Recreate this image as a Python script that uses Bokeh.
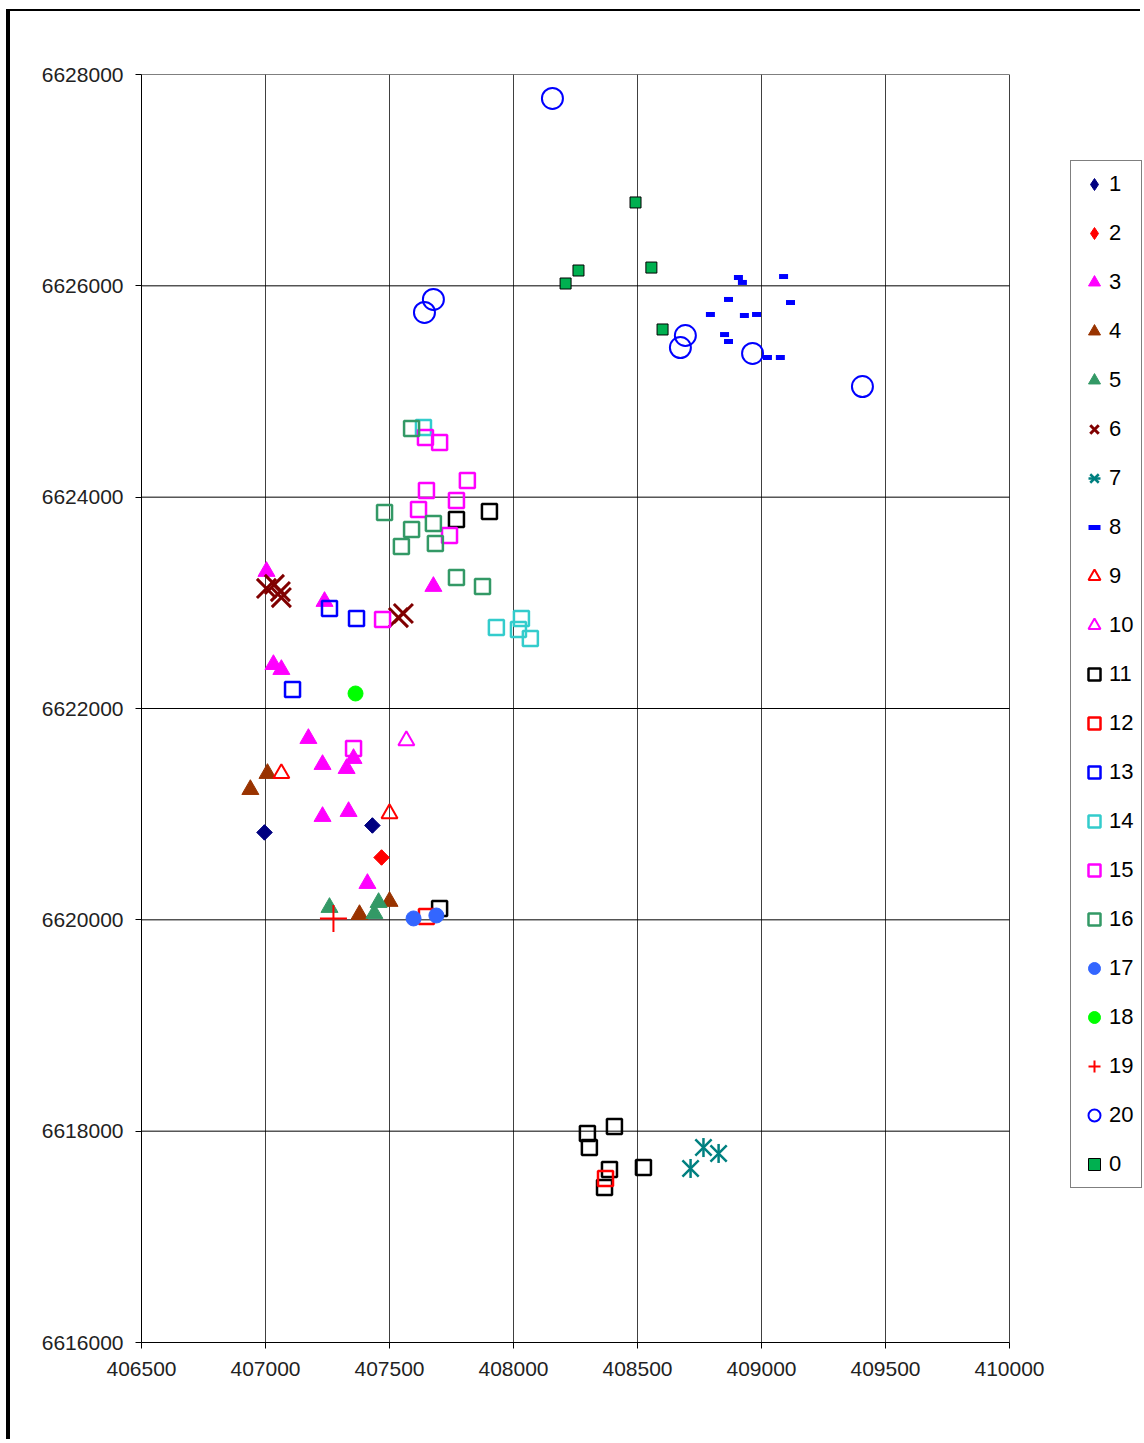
import math
from bokeh.plotting import figure
from bokeh.models import Range1d, FixedTicker, BasicTickFormatter, Legend, LegendItem
from bokeh.embed import file_html
from bokeh.resources import INLINE

# ---- data ----
x_ticks = [406500, 407000, 407500, 408000, 408500, 409000, 409500, 410000]
y_ticks = [6616000, 6618000, 6620000, 6622000, 6624000, 6626000, 6628000]

s1_x = [406996, 407431]
s1_y = [6620827, 6620893]
s2_x = [407468]
s2_y = [6620590]
s3_x = [407004, 407238, 407677, 407032, 407064, 407173, 407230, 407327, 407355, 407230, 407335, 407411]
s3_y = [6623297, 6623013, 6623155, 6622416, 6622369, 6621716, 6621470, 6621432, 6621527, 6620978, 6621025, 6620344]
s4_x = [406939, 407008, 407379, 407500]
s4_y = [6621233, 6621385, 6620050, 6620174]
s5_x = [407258, 407439, 407456]
s5_y = [6620117, 6620060, 6620164]
s6_x = [407004, 407036, 407060, 407064, 407536, 407556]
s6_y = [6623136, 6623174, 6623107, 6623050, 6622861, 6622899]
s7_x = [408714, 408766, 408827]
s7_y = [6617647, 6617845, 6617789]
s8_x = [408907, 408923, 409089, 408867, 408794, 408931, 408980, 409117, 408851, 408867, 409024, 409076]
s8_y = [6626079, 6626032, 6626088, 6625871, 6625729, 6625719, 6625729, 6625842, 6625539, 6625473, 6625322, 6625322]
s9_x = [407064, 407500]
s9_y = [6621385, 6621006]
s10_x = [407568]
s10_y = [6621697]
s11_x = [407903, 407770, 407702, 408298, 408306, 408407, 408387, 408367, 408524]
s11_y = [6623864, 6623789, 6620107, 6617978, 6617845, 6618044, 6617637, 6617467, 6617656]
s12_x = [407649, 408371]
s12_y = [6620032, 6617552]
s13_x = [407258, 407367, 407109]
s13_y = [6622946, 6622852, 6622180]
s14_x = [407637, 407931, 408032, 408020, 408068]
s14_y = [6624659, 6622767, 6622852, 6622748, 6622663]
s15_x = [407645, 407702, 407814, 407649, 407770, 407617, 407742, 407472, 407355]
s15_y = [6624565, 6624517, 6624158, 6624063, 6623968, 6623883, 6623637, 6622842, 6621621]
s16_x = [407589, 407480, 407677, 407589, 407548, 407685, 407770, 407875]
s16_y = [6624650, 6623855, 6623751, 6623694, 6623533, 6623562, 6623240, 6623155]
s17_x = [407597, 407689]
s17_y = [6620013, 6620041]
s18_x = [407363]
s18_y = [6622142]
s19_x = [407274]
s19_y = [6620013]
s20_x = [408157, 407677, 407641, 408693, 408673, 408964, 409407]
s20_y = [6627773, 6625871, 6625748, 6625530, 6625416, 6625360, 6625047]
s0_x = [408492, 408210, 408262, 408556, 408601]
s0_y = [6626789, 6626022, 6626145, 6626173, 6625587]

series_labels = ["1", "2", "3", "4", "5", "6", "7", "8", "9", "10",
                 "11", "12", "13", "14", "15", "16", "17", "18", "19", "20", "0"]
series_x = [s1_x, s2_x, s3_x, s4_x, s5_x, s6_x, s7_x, s8_x, s9_x, s10_x,
            s11_x, s12_x, s13_x, s14_x, s15_x, s16_x, s17_x, s18_x, s19_x, s20_x, s0_x]
series_y = [s1_y, s2_y, s3_y, s4_y, s5_y, s6_y, s7_y, s8_y, s9_y, s10_y,
            s11_y, s12_y, s13_y, s14_y, s15_y, s16_y, s17_y, s18_y, s19_y, s20_y, s0_y]

D = math.pi / 4
V = math.pi / 2
# ---- styles: list of marker layers (marker, size, fill, line, line_width, angle) ----
styles = [
    [("square", 11, "#000080", "#000080", 1, D)],
    [("square", 11, "#FF0000", "#FF0000", 1, D)],
    [("triangle", 17, "#FF00FF", "#FF00FF", 1, 0)],
    [("triangle", 17, "#993300", "#993300", 1, 0)],
    [("triangle", 17, "#339966", "#339966", 1, 0)],
    [("x", 27, None, "#800000", 3, 0)],
    [("x", 23, None, "#008080", 2.5, 0), ("dash", 19, None, "#008080", 2.5, V)],
    [("dash", 9, None, "#0000FF", 5, 0)],
    [("triangle", 16, None, "#FF0000", 2, 0)],
    [("triangle", 16, None, "#FF00FF", 2, 0)],
    [("square", 15, None, "#000000", 2.5, 0)],
    [("square", 15, None, "#FF0000", 2.5, 0)],
    [("square", 15, None, "#0000FF", 2.5, 0)],
    [("square", 15, None, "#33CCCC", 2.5, 0)],
    [("square", 15, None, "#FF00FF", 2.5, 0)],
    [("square", 15, None, "#339966", 2.5, 0)],
    [("circle", 15, "#3366FF", "#3366FF", 1, 0)],
    [("circle", 15, "#00FF00", "#00FF00", 1, 0)],
    [("cross", 27, None, "#FF0000", 2, 0)],
    [("circle", 21, None, "#0000FF", 2, 0)],
    [("square", 11, "#00B050", "#000000", 1, 0)],
]

FW = 1003                      # frame width in px (plot area + legend strip)
PX_PER_UNIT = 868 / 3500       # plot area: 868 px for 406500..410000
x_end = x_ticks[0] + FW / PX_PER_UNIT

p = figure(width=1134, height=1430, output_backend="svg", toolbar_location=None,
           x_range=Range1d(x_ticks[0], x_end), y_range=Range1d(y_ticks[0], y_ticks[-1]),
           min_border_left=131, min_border_right=0, min_border_top=63, min_border_bottom=99)
p.styles = {"margin-left": "6px", "margin-top": "9px",
            "border-left": "4px solid black", "border-top": "2px solid black"}

p.outline_line_color = None
p.background_fill_color = "white"
p.border_fill_color = "white"
p.xgrid.visible = False
p.ygrid.visible = False

# grid lines limited to the plot area
nx, ny = len(x_ticks), len(y_ticks)
p.segment(x0=x_ticks, y0=[y_ticks[0]] * nx, x1=x_ticks, y1=[y_ticks[-1]] * nx,
          line_color="#404040", line_width=1)
p.segment(x0=[x_ticks[0]] * ny, y0=y_ticks, x1=[x_ticks[-1]] * ny, y1=y_ticks,
          line_color="#000000", line_width=1)

p.xaxis.ticker = FixedTicker(ticks=x_ticks)
p.yaxis.ticker = FixedTicker(ticks=y_ticks)
p.xaxis.bounds = (x_ticks[0], x_ticks[-1])
p.xaxis.formatter = BasicTickFormatter(use_scientific=False)
p.yaxis.formatter = BasicTickFormatter(use_scientific=False)

for ax in (p.xaxis[0], p.yaxis[0]):
    ax.axis_line_color = "black"
    ax.axis_line_width = 1
    ax.major_tick_line_color = "black"
    ax.major_tick_out = 6
    ax.major_tick_in = 0
    ax.minor_tick_line_color = None
    ax.major_label_text_font = "Liberation Sans"
    ax.major_label_text_font_size = "21px"
    ax.major_label_text_color = "#222222"
p.xaxis.major_label_standoff = 13
p.yaxis.major_label_standoff = 12

items = []
for lab, xs, ys, layers in zip(series_labels, series_x, series_y, styles):
    rs = []
    proxy = None
    if layers[0][5] == D:
        # diamond drawn under the rotated square; it is what the legend shows
        proxy = p.scatter(xs, ys, marker="diamond", size=15,
                          fill_color=layers[0][2], line_color=layers[0][3])
    for marker, size, fill, line, lw, ang in layers:
        r = p.scatter(xs, ys, marker=marker, size=size, angle=ang,
                      fill_color=fill, line_color=line, line_width=lw,
                      fill_alpha=1 if fill else 0)
        rs.append(r)
    if proxy is not None:
        rs = [proxy]
    items.append(LegendItem(label=lab, renderers=rs))

legend = Legend(items=items, location=(929, 154))
legend.label_text_font = "Liberation Sans"
legend.label_text_font_size = "22px"
legend.label_text_color = "black"
legend.glyph_height = 30
legend.glyph_width = 30
legend.label_height = 30
legend.spacing = 19
legend.padding = 8
legend.label_standoff = 0
legend.border_line_color = "black"
legend.border_line_width = 1
legend.background_fill_color = "white"
legend.background_fill_alpha = 1
p.add_layout(legend, "center")

open("out.html", "w").write(file_html(p, INLINE))
